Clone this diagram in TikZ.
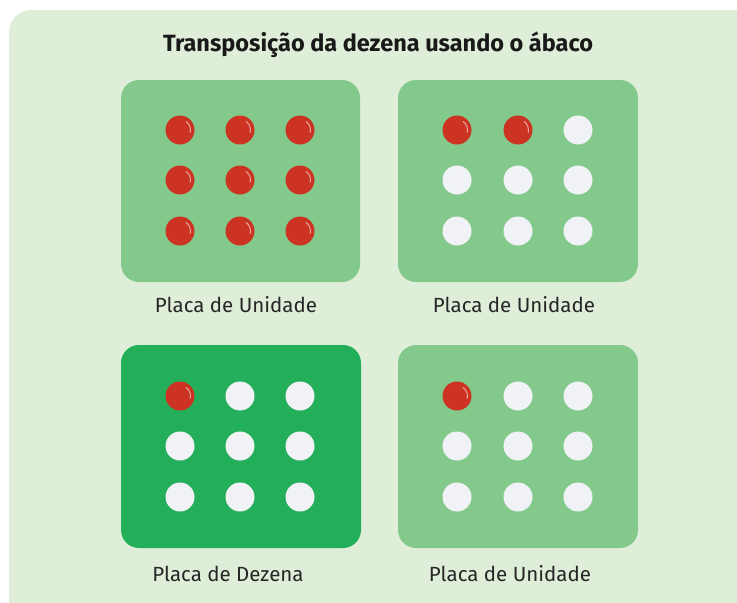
\documentclass[tikz,border=0pt]{standalone}
\usepackage{fontspec}
\setmainfont{Fira Sans}
\definecolor{bgc}{HTML}{DFEED9}
\definecolor{lightp}{HTML}{84C98C}
\definecolor{darkp}{HTML}{23AF5A}
\definecolor{redd}{HTML}{CC3322}
\definecolor{whited}{HTML}{F0F2F5}
\begin{document}
\begin{tikzpicture}[x=1pt,y=-1pt,
  panel/.style={rounded corners=18pt, draw=none},
  rdot/.style={circle, fill=redd, minimum size=29pt, inner sep=0pt, draw=none},
  wdot/.style={circle, fill=whited, minimum size=29pt, inner sep=0pt, draw=none},
  hlarc/.style={draw=white, draw opacity=0.55, line width=1pt},
  lbl/.style={font=\fontsize{20.5}{22}\selectfont, text=black!85},
  ttl/.style={font=\fontsize{23.5}{26}\selectfont\bfseries, text=black!90}]
\useasboundingbox (0,0) rectangle (737,603);
\fill[white] (0,0) rectangle (737,603);
\fill[bgc, rounded corners=22pt] (9,10) rectangle (760,640);
\node[ttl] (title) at (378,45) {Transposição da dezena usando o ábaco};
\fill[lightp, panel] (121,80) rectangle (360,282);
\fill[lightp, panel] (398,80) rectangle (638,282);
\fill[darkp, panel] (121,345) rectangle (361,548);
\fill[lightp, panel] (398,345) rectangle (638,548);
\node[lbl] (l1) at (236,305) {Placa de Unidade};
\node[lbl] (l2) at (514,305) {Placa de Unidade};
\node[lbl] (l3) at (228,574) {Placa de Dezena};
\node[lbl] (l4) at (510,574) {Placa de Unidade};
\newcommand{\dotat}[3]{%
  \if r#3
    \node[rdot] at (#1,#2) {};
    \draw[hlarc] (#1,#2) ++(-15:10.5pt) arc[start angle=-15, end angle=55, radius=10.5pt];
  \else
    \node[wdot] at (#1,#2) {};
  \fi}
% panel 1: all red
\foreach \x in {180,240,300}{\foreach \y in {130,180,231}{\dotat{\x}{\y}{r}}}
% panel 2
\foreach \x/\y/\c in {457/130/r,518/130/r,578/130/w,457/180/w,518/180/w,578/180/w,457/231/w,518/231/w,578/231/w}{\dotat{\x}{\y}{\c}}
% panel 3
\foreach \x/\y/\c in {180/396/r,240/396/w,300/396/w,180/446/w,240/446/w,300/446/w,180/497/w,240/497/w,300/497/w}{\dotat{\x}{\y}{\c}}
% panel 4
\foreach \x/\y/\c in {457/396/r,518/396/w,578/396/w,457/446/w,518/446/w,578/446/w,457/497/w,518/497/w,578/497/w}{\dotat{\x}{\y}{\c}}
\end{tikzpicture}
\end{document}
